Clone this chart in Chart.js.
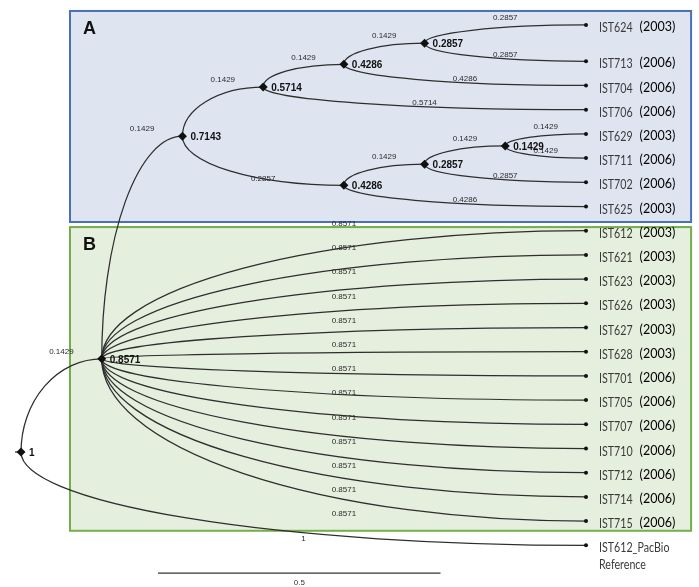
<!DOCTYPE html>
<html>
<head>
<meta charset="utf-8">
<script src="https://cdn.jsdelivr.net/npm/chart.js"></script>
<style>
  html, body { margin: 0; padding: 0; background: #fff; }
  #tree { display: block; }
</style>
</head>
<body>
<canvas id="tree" width="699" height="587"></canvas>
<script>
// tips, top to bottom
const leafNames = ['IST624', 'IST713', 'IST704', 'IST706', 'IST629', 'IST711', 'IST702', 'IST625',
  'IST612', 'IST621', 'IST623', 'IST626', 'IST627', 'IST628', 'IST701', 'IST705', 'IST707',
  'IST710', 'IST712', 'IST714', 'IST715', 'IST612_PacBio'];
const leafYears = ['(2003)', '(2006)', '(2006)', '(2006)', '(2003)', '(2006)', '(2006)', '(2003)',
  '(2003)', '(2003)', '(2003)', '(2003)', '(2003)', '(2003)', '(2006)', '(2006)', '(2006)',
  '(2006)', '(2006)', '(2006)', '(2006)', 'Reference'];
const leafRows = [0, 1.5, 2.5, 3.5, 4.5, 5.5, 6.5, 7.5, 8.5, 9.5, 10.5, 11.5, 12.5, 13.5,
  14.5, 15.5, 16.5, 17.5, 18.5, 19.5, 20.5, 21.5];
const leafParents = ['n2857a', 'n2857a', 'n4286a', 'n5714', 'n1429', 'n1429', 'n2857b', 'n4286b',
  'n8571', 'n8571', 'n8571', 'n8571', 'n8571', 'n8571', 'n8571', 'n8571', 'n8571',
  'n8571', 'n8571', 'n8571', 'n8571', 'root'];
const leafBranch = [0.2857, 0.2857, 0.4286, 0.5714, 0.1429, 0.1429, 0.2857, 0.4286,
  0.8571, 0.8571, 0.8571, 0.8571, 0.8571, 0.8571, 0.8571, 0.8571, 0.8571,
  0.8571, 0.8571, 0.8571, 0.8571, 1];

// internal nodes, height = distance to the tips
const nodeIds = ['root', 'n8571', 'n7143', 'n5714', 'n4286a', 'n2857a', 'n4286b', 'n2857b', 'n1429'];
const nodeHeights = [1, 0.8571, 0.7143, 0.5714, 0.4286, 0.2857, 0.4286, 0.2857, 0.1429];
const nodeParents = [null, 'root', 'n8571', 'n7143', 'n5714', 'n4286a', 'n7143', 'n4286b', 'n2857b'];
const nodeBranch = [null, 0.1429, 0.1429, 0.1429, 0.1429, 0.1429, 0.2857, 0.1429, 0.1429];

// layout: x = distance from root, row = mean of the children rows
const pos = {};
leafNames.forEach((n, i) => { pos[n] = { x: 1, y: leafRows[i] }; });
function rowOf(id) {
  if (pos[id]) return pos[id].y;
  const kids = [];
  nodeParents.forEach((p, i) => { if (p === id) kids.push(nodeIds[i]); });
  leafParents.forEach((p, i) => { if (p === id) kids.push(leafNames[i]); });
  const r = kids.map(rowOf).reduce((a, b) => a + b, 0) / kids.length;
  pos[id] = { x: 1 - nodeHeights[nodeIds.indexOf(id)], y: r };
  return r;
}
nodeIds.forEach(rowOf);

const edges = [];
nodeIds.forEach((id, i) => { if (nodeParents[i]) edges.push({ from: nodeParents[i], to: id, len: nodeBranch[i] }); });
leafNames.forEach((id, i) => edges.push({ from: leafParents[i], to: id, len: leafBranch[i] }));

const nodePoints = nodeIds.map((id, i) => ({ x: pos[id].x, y: pos[id].y, label: String(nodeHeights[i]) }));
const leafPoints = leafNames.map((id, i) => ({ x: pos[id].x, y: pos[id].y, name: id, year: leafYears[i] }));

function branch(ctx, x0, y0, x1, y1) {
  const rx = x1 - x0, ry = Math.abs(y1 - y0);
  ctx.beginPath();
  if (ry < 0.5) { ctx.moveTo(x0, y0); ctx.lineTo(x1, y1); }
  else if (y1 < y0) ctx.ellipse(x1, y0, rx, ry, 0, Math.PI, 1.5 * Math.PI);
  else ctx.ellipse(x1, y0, rx, ry, 0, 0.5 * Math.PI, Math.PI);
  ctx.stroke();
}

// condensed tip names
function narrowText(ctx, text, x, y, sx) {
  ctx.save();
  ctx.translate(x, y);
  ctx.scale(sx, 1);
  ctx.fillText(text, 0, 0);
  ctx.restore();
  return ctx.measureText(text).width * sx;
}

const treePlugin = {
  id: 'tree',
  beforeDatasetsDraw(chart, args, opts) {
    const ctx = chart.ctx, xs = chart.scales.x, ys = chart.scales.y;
    ctx.save();
    opts.boxes.forEach(b => {
      const x0 = xs.getPixelForValue(b.x0), x1 = xs.getPixelForValue(b.x1);
      const y0 = ys.getPixelForValue(b.r0), y1 = ys.getPixelForValue(b.r1);
      ctx.fillStyle = b.fill;
      ctx.fillRect(x0, y0, x1 - x0, y1 - y0);
      ctx.strokeStyle = b.border;
      ctx.lineWidth = 2;
      ctx.strokeRect(x0, y0, x1 - x0, y1 - y0);
      ctx.fillStyle = '#111';
      ctx.font = 'bold 18px "Liberation Sans", Arial, sans-serif';
      ctx.textBaseline = 'alphabetic';
      ctx.fillText(b.label, x0 + 13, y0 + 23);
    });
    ctx.strokeStyle = '#2e2e2e';
    ctx.lineWidth = 1.25;
    edges.forEach(e => {
      const a = pos[e.from], c = pos[e.to];
      branch(ctx, xs.getPixelForValue(a.x), ys.getPixelForValue(a.y),
        xs.getPixelForValue(c.x), ys.getPixelForValue(c.y));
    });
    const rx = xs.getPixelForValue(pos.root.x), ry = ys.getPixelForValue(pos.root.y);
    ctx.beginPath(); ctx.moveTo(rx - 6, ry); ctx.lineTo(rx, ry); ctx.stroke();
    ctx.restore();
  },
  afterDatasetsDraw(chart, args, opts) {
    const ctx = chart.ctx, xs = chart.scales.x, ys = chart.scales.y;
    ctx.save();
    // branch lengths
    ctx.font = '8px "Liberation Sans", Arial, sans-serif';
    ctx.fillStyle = '#2a2a2a';
    ctx.textAlign = 'center';
    ctx.textBaseline = 'middle';
    edges.forEach(e => {
      const a = pos[e.from], c = pos[e.to];
      const mx = (xs.getPixelForValue(a.x) + xs.getPixelForValue(c.x)) / 2;
      ctx.fillText(String(e.len), mx, ys.getPixelForValue(c.y) - 7);
    });
    // node heights
    ctx.textAlign = 'left';
    ctx.font = 'bold 10px "Liberation Sans", Arial, sans-serif';
    ctx.fillStyle = '#111';
    nodePoints.forEach(p => ctx.fillText(p.label, xs.getPixelForValue(p.x) + 8, ys.getPixelForValue(p.y) + 1));
    // tip labels
    leafPoints.forEach(p => {
      const x = xs.getPixelForValue(p.x) + 13, y = ys.getPixelForValue(p.y) + 3;
      ctx.font = '13px Lato, "Liberation Sans", sans-serif';
      ctx.fillStyle = '#3a3a3a';
      const w = narrowText(ctx, p.name, x, y, 0.82);
      if (p.year === 'Reference') {
        narrowText(ctx, p.year, x, y + 17, 0.82);
      } else {
        ctx.font = '12.5px Lato, "Liberation Sans", sans-serif';
        ctx.fillStyle = '#000';
        ctx.fillText(p.year, x + w + 7, y - 1);
      }
    });
    // scale bar
    const sb = opts.scaleBar;
    const s0 = xs.getPixelForValue(sb.x), s1 = xs.getPixelForValue(sb.x + sb.len), sy = ys.getPixelForValue(sb.row);
    ctx.strokeStyle = '#333';
    ctx.lineWidth = 1.2;
    ctx.beginPath(); ctx.moveTo(s0, sy); ctx.lineTo(s1, sy); ctx.stroke();
    ctx.font = '8px "Liberation Sans", Arial, sans-serif';
    ctx.fillStyle = '#333';
    ctx.textAlign = 'center';
    ctx.fillText(String(sb.len), (s0 + s1) / 2, sy + 10);
    ctx.restore();
  }
};

new Chart(document.getElementById('tree'), {
  type: 'scatter',
  data: {
    datasets: [
      { label: 'nodes', data: nodePoints, pointStyle: 'rectRot', pointRadius: 4.5,
        backgroundColor: '#111', borderColor: '#111', borderWidth: 0 },
      { label: 'tips', data: leafPoints, pointStyle: 'circle', pointRadius: 2,
        backgroundColor: '#111', borderColor: '#111', borderWidth: 0 }
    ]
  },
  options: {
    responsive: false,
    animation: false,
    layout: { padding: 0, autoPadding: false },
    events: [],
    plugins: {
      legend: { display: false },
      tooltip: { enabled: false },
      tree: {
        boxes: [
          { label: 'A', x0: 0.0867, x1: 1.186, r0: -0.58, r1: 8.14, fill: '#dee5f1', border: '#4a70b8' },
          { label: 'B', x0: 0.0867, x1: 1.186, r0: 8.35, r1: 20.9, fill: '#e5efdd', border: '#74ae4c' }
        ],
        scaleBar: { x: 0.2425, len: 0.5, row: 22.65 }
      }
    },
    scales: {
      x: { type: 'linear', display: false, min: -0.0372, max: 1.2 },
      y: { type: 'linear', display: false, reverse: true, min: -1.033, max: 23.223 }
    }
  },
  plugins: [treePlugin]
});
</script>
</body>
</html>
